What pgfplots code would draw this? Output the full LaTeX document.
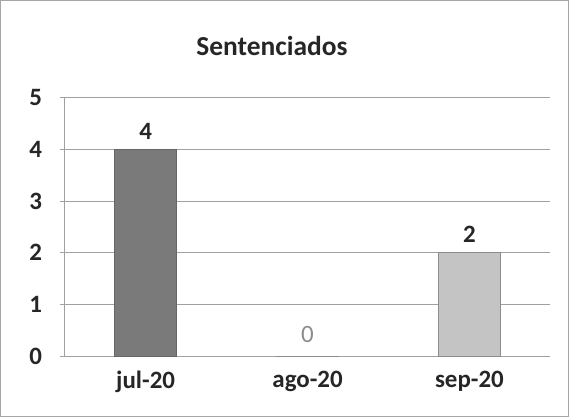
\documentclass[border=0pt]{standalone}
\usepackage{pgfplots}
\pgfplotsset{compat=1.18}
\usepackage{fontspec}
\setmainfont{Carlito}
\definecolor{barA}{HTML}{7A7A7A}
\definecolor{barB}{HTML}{C4C4C4}
\definecolor{gridc}{HTML}{A0A0A0}
\begin{document}
\begin{tikzpicture}[x=1bp,y=1bp]
\draw[gray!70, line width=1.2bp] (1,1) rectangle (568,416);
\node[font=\fontsize{27.5}{30}\selectfont\bfseries, text=black!85] at (272,371) {Sentenciados};
\begin{axis}[
    at={(65bp,61bp)}, anchor=south west,
    scale only axis,
    width=485bp, height=258bp,
    ybar, bar width=62bp, bar shift=0pt,
    xmin=-0.5, xmax=2.5,
    ymin=0, ymax=5,
    xtick={0,1,2},
    xticklabels={jul-20,ago-20,sep-20},
    ytick={0,1,2,3,4,5},
    ymajorgrids=true,
    grid style={gridc, line width=1bp},
    axis x line*=bottom, axis y line*=left,
    axis line style={gridc, line width=1bp},
    major tick style={gridc, line width=1bp},
    xtick style={draw=none},
    tick align=outside, major tick length=5bp,
    ticklabel style={font=\fontsize{25}{27}\selectfont\bfseries, text=black!85},
    yticklabel style={xshift=-14bp},
    xticklabel style={yshift=-6bp},
    /pgf/number format/assume math mode=true,
    nodes near coords,
    every node near coord/.append style={font=\fontsize{25}{27}\selectfont\bfseries, yshift=6bp},
    clip=false,
]
\addplot[fill=barA, draw=black!60, line width=1bp, nodes near coords style={text=black!85}] coordinates {(0,4)};
\addplot[fill=barB, draw=black!45, line width=1bp, nodes near coords style={text=black!45, font=\fontsize{25}{27}\selectfont\mdseries, yshift=4bp}] coordinates {(1,0)};
\addplot[fill=barB, draw=black!45, line width=1bp, nodes near coords style={text=black!85}] coordinates {(2,2)};
\end{axis}
\end{tikzpicture}
\end{document}
